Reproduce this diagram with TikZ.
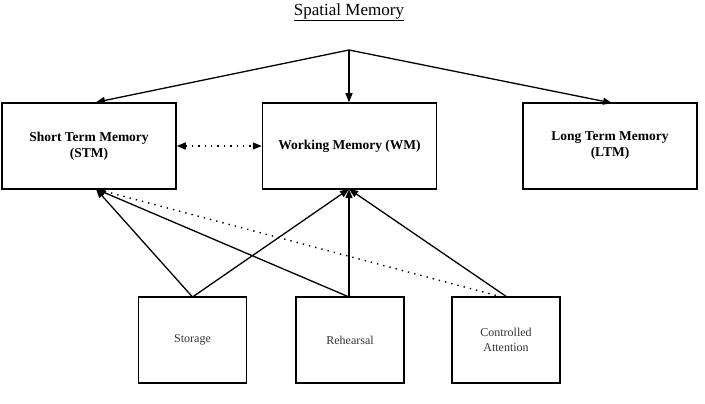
\documentclass[tikz,border=0pt]{standalone}
\usepackage{fontspec}
\setmainfont{Liberation Serif}
\usetikzlibrary{arrows.meta}
\begin{document}
\begin{tikzpicture}[x=1pt,y=-1pt,
  topbox/.style={draw,line width=1.5pt,minimum width=174pt,minimum height=86pt,align=center,font=\fontsize{13.5}{16}\selectfont\bfseries,inner sep=0pt},
  botbox/.style={draw,line width=1.5pt,minimum width=108pt,minimum height=86pt,align=center,font=\fontsize{12}{15.5}\selectfont,text=black!80,inner sep=0pt},
  tip/.tip={Triangle[length=9pt,width=7pt]},
  arr/.style={line width=1.3pt,-tip},
  dotline/.style={line width=1.4pt,dash pattern=on 1.4pt off 5pt},
  dotarr/.style={dotline,-tip}]
\useasboundingbox (0,0) rectangle (705,404);
\node[font=\fontsize{17}{20}\selectfont] (title) at (349,12) {\underline{Spatial Memory}};
\coordinate (hub) at (349,50);
\node[topbox] (stm) at (89,146) {Short Term Memory\\(STM)};
\node[topbox] (wm) at (349.5,146) {Working Memory (WM)};
\node[topbox] (ltm) at (610,146) {Long Term Memory\\(LTM)};
\node[botbox] (sto) at (192.5,340) {Storage};
\node[botbox] (reh) at (350,340) {Rehearsal};
\node[botbox] (att) at (506,340) {Controlled\\Attention};
\coordinate (stmin) at (96,189);
\coordinate (wmin) at (349,189);
\coordinate (stoout) at (192.5,297);
\coordinate (rehout) at (349,297);
\coordinate (attout) at (507,297);
\coordinate (attdot) at (502,297);
\draw[arr] (hub) -- (stmin |- stm.north);
\draw[arr] (hub) -- (wm.north -| hub);
\draw[arr] (hub) -- (612,103);
\draw[dotline,tip-tip] (stm.east) -- (wm.west);
\draw[arr] (stoout) -- (stmin);
\draw[arr] (stoout) -- (wmin);
\draw[arr] (rehout) -- (stmin);
\draw[arr] (rehout) -- (wmin);
\draw[arr] (attout) -- (wmin);
\draw[dotarr] (attdot) -- (stmin);
\end{tikzpicture}
\end{document}
